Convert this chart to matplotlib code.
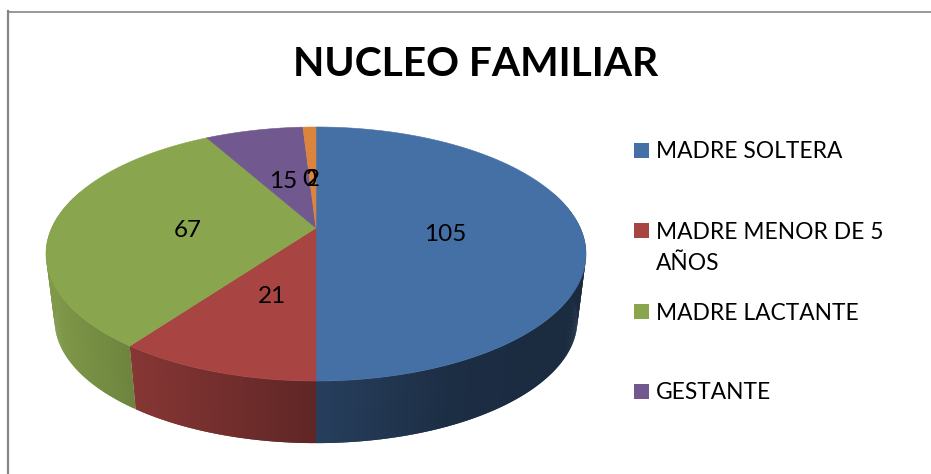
import numpy as np
import matplotlib
matplotlib.use("Agg")
import matplotlib.pyplot as plt
from matplotlib.patches import Rectangle

# data
values = [105, 21, 67, 15, 0, 2]
legend_names = ["MADRE SOLTERA", "MADRE MENOR DE 5\nAÑOS", "MADRE LACTANTE", "GESTANTE"]
title = "NUCLEO FAMILIAR"

colors = ["#4570A6", "#A84442", "#89A54E", "#71588F", "#4198AF", "#DB843D"]

plt.rcParams["font.family"] = ["Lato", "DejaVu Sans"]

fig = plt.figure(figsize=(9.31, 4.74), dpi=100)
ax = fig.add_axes([0, 0, 1, 1])
ax.set_xlim(0, 931)
ax.set_ylim(474, 0)
ax.axis("off")

# perspective of the tilted pie
cx, cy = 316, 228
a, b, k = 264.3, 121.7, 0.2047


def project(ang, r=1.0, scale=1.0, drop=0.0):
    # ang is clockwise from the top
    x = r * np.sin(ang)
    y = r * np.cos(ang)
    w = 1 + k * y
    return cx + scale * a * x / w, cy + drop - scale * b * y / w


def side_shade(px):
    return np.interp(px, [46, 136, 316, 450, 585], [0.93, 0.79, 0.56, 0.41, 0.38])


cum = np.cumsum([0] + values) / sum(values) * 2 * np.pi

# side wall, small strips that overlap a bit so no seams show
for i, col in enumerate(colors):
    if values[i] == 0:
        continue
    base = np.array(matplotlib.colors.to_rgb(col))
    n = max(2, int((cum[i + 1] - cum[i]) * 120))
    angs = np.linspace(cum[i], cum[i + 1], n + 1)
    step = angs[1] - angs[0]
    for a0, a1 in zip(angs[:-1], angs[1:]):
        if np.cos(a0) > 0.3 and np.cos(a1) > 0.3:
            continue
        a2 = min(a1 + step, cum[i + 1])
        x0, y0 = project(a0)
        x1, y1 = project(a2)
        x2, y2 = project(a2, scale=0.968, drop=67)
        x3, y3 = project(a0, scale=0.968, drop=67)
        c = base * side_shade((x0 + x1) / 2)
        ax.fill([x0, x1, x2, x3], [y0, y1, y2, y3], color=c, lw=0, zorder=2)

# top of the pie
for i, col in enumerate(colors):
    if values[i] == 0:
        continue
    angs = np.linspace(cum[i], cum[i + 1], 200)
    xs, ys = project(angs)
    ax.fill(np.r_[cx, xs], np.r_[cy, ys], color=col, lw=0.4, zorder=3)

# value labels
for i, v in enumerate(values):
    mid = (cum[i] + cum[i + 1]) / 2
    lx, ly = project(mid, r=0.49)
    ax.text(lx, ly + 6, str(v), ha="center", va="center", fontsize=17.5, color="black", zorder=5)

ax.text(475.5, 64, title, ha="center", va="center", fontsize=29.3, fontweight="bold", color="black")

# legend, only four entries fit in the original
legend_y = [150, 230.5, 311.5, 391]
for name, col, ly in zip(legend_names, colors, legend_y):
    ax.add_patch(Rectangle((634, ly - 7.5), 15, 15, facecolor=col, edgecolor="none", zorder=4))
    parts = name.split("\n")
    for j, part in enumerate(parts):
        ax.text(656, ly + 1.5 + j * 31, part, ha="left", va="center", fontsize=16.4, color="black")

# chart frame, cut by the picture on the right and bottom
ax.plot([7.5, 931], [11.5, 11.5], color="#868686", lw=1.2, zorder=1)
ax.plot([8, 8], [11, 474], color="#868686", lw=1.6, zorder=1)

fig.savefig("out.png", dpi=100, facecolor="white")
